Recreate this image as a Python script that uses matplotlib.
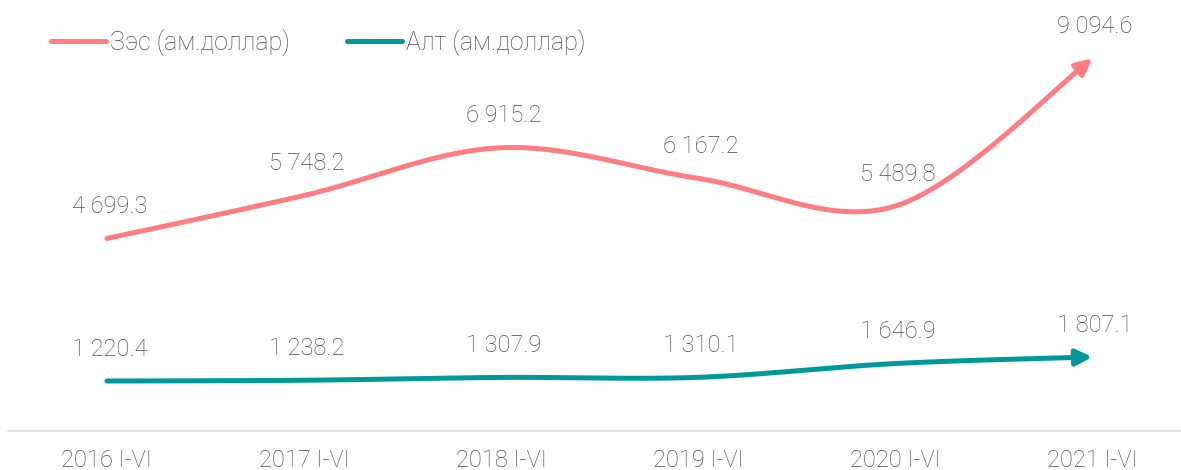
import matplotlib
matplotlib.use('Agg')
import matplotlib.pyplot as plt
import numpy as np

plt.rcParams['font.family'] = ['Roboto', 'DejaVu Sans']

years = ['2016 I-VI', '2017 I-VI', '2018 I-VI', '2019 I-VI', '2020 I-VI', '2021 I-VI']
copper = [4699.3, 5748.2, 6915.2, 6167.2, 5489.8, 9094.6]
gold = [1220.4, 1238.2, 1307.9, 1310.1, 1646.9, 1807.1]

COPPER_COLOR = '#ff7c80'
GOLD_COLOR = '#009999'
TEXT_COLOR = '#4a4a4a'


def smooth(xv, yv, n=40):
    # catmull-rom through the points, like excel's smoothed line
    p = np.column_stack([xv, yv]).astype(float)
    p = np.vstack([p[0], p, p[-1]])
    out = []
    t = np.linspace(0, 1, n)
    for i in range(1, len(p) - 2):
        p0, p1, p2, p3 = p[i - 1], p[i], p[i + 1], p[i + 2]
        m1 = (p2 - p0) / 2
        m2 = (p3 - p1) / 2
        h00 = 2 * t**3 - 3 * t**2 + 1
        h10 = t**3 - 2 * t**2 + t
        h01 = -2 * t**3 + 3 * t**2
        h11 = t**3 - t**2
        seg = (np.outer(h00, p1) + np.outer(h10, m1) +
               np.outer(h01, p2) + np.outer(h11, m2))
        out.append(seg if i == 1 else seg[1:])
    seg = np.vstack(out)
    return seg[:, 0], seg[:, 1]


fig = plt.figure(figsize=(11.81, 4.70), dpi=100)
ax = fig.add_axes([8 / 1181, 39 / 470, 1 - 8 / 1181, 1 - 39 / 470])

x = np.arange(len(years))
for vals, color, name in [(copper, COPPER_COLOR, 'Зэс (ам.доллар)'),
                          (gold, GOLD_COLOR, 'Алт (ам.доллар)')]:
    sx, sy = smooth(x, vals)
    k = 6
    ax.plot(sx[:-k + 1], sy[:-k + 1], color=color, lw=3.6,
            solid_capstyle='round', label=name)
    ax.annotate('', xy=(sx[-1], sy[-1]), xytext=(sx[-k], sy[-k]),
                arrowprops=dict(arrowstyle='-|>', color=color, lw=3.6,
                                mutation_scale=24, shrinkA=0, shrinkB=0))
    for xi, v in zip(x, vals):
        label = f'{v:,.1f}'.replace(',', ' ')
        ax.annotate(label, (xi, v), xytext=(2, 23), textcoords='offset points',
                    ha='center', va='center', fontsize=17, color=TEXT_COLOR,
                    fontweight='light')

ax.set_xlim(-0.502, 5.45)
ax.set_ylim(0, 10520)
ax.set_xticks(x)
ax.set_xticklabels(years, fontsize=17, color=TEXT_COLOR, fontweight='light')
ax.tick_params(axis='x', length=0, pad=13)
ax.set_yticks([])
for s in ['top', 'right', 'left']:
    ax.spines[s].set_visible(False)
ax.spines['bottom'].set_color('#d9d9d9')
ax.spines['bottom'].set_linewidth(1.2)

leg = ax.legend(loc='upper left', bbox_to_anchor=(51 / 1181, 1 - 29 / 470),
                bbox_transform=fig.transFigure, ncol=2, frameon=False,
                fontsize=18, handlelength=2.2, handletextpad=0.15,
                columnspacing=2.3, borderpad=0, borderaxespad=0)
for t in leg.get_texts():
    t.set_color(TEXT_COLOR)
    t.set_fontweight('light')

fig.savefig('out.png', dpi=100)
